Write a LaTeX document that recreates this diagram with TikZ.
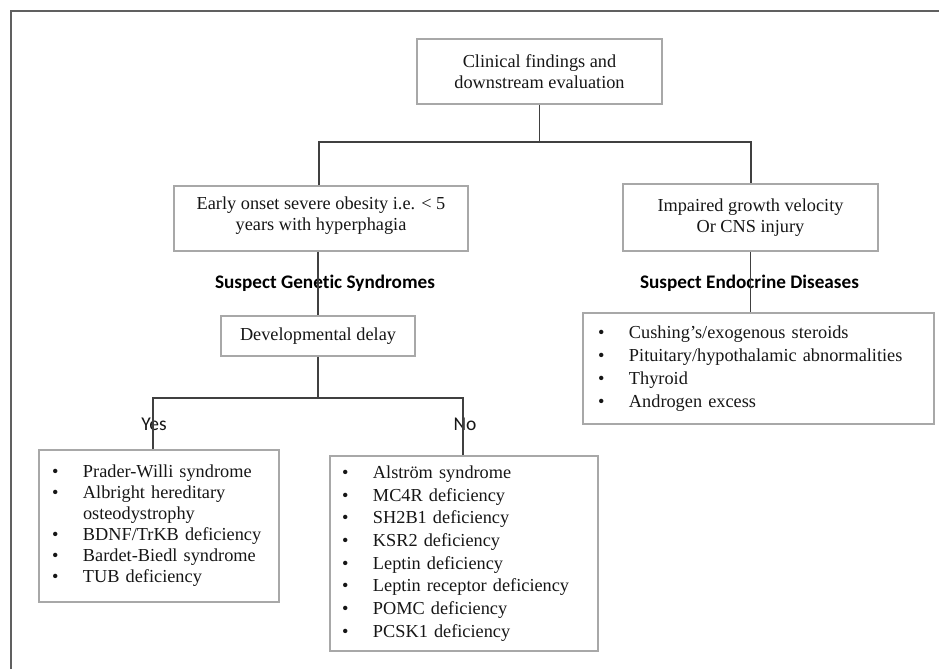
\documentclass[tikz,border=0pt]{standalone}
\usepackage{fontspec}
\setmainfont{Liberation Serif}
\newfontfamily\carl[Ligatures=NoCommon]{Carlito}
\definecolor{boxgray}{HTML}{A8A8A8}
\definecolor{lnk}{HTML}{404040}
\definecolor{framec}{HTML}{606060}
\definecolor{txt}{HTML}{161616}
\newcommand{\lbul}{\makebox[31pt][l]{\textbullet}}
\begin{document}
\begin{tikzpicture}[x=1pt,y=-1pt,
  box/.style={draw=boxgray, line width=1.1pt, inner sep=0pt, text=txt, align=center,
    font=\fontsize{18.3}{21}\selectfont},
  listbox/.style={box, align=left},
  conn/.style={draw=lnk, line width=1.1pt},
  framel/.style={draw=framec, line width=1.6pt},
  head/.style={inner sep=0pt, text=black, font=\carl\bfseries\fontsize{19.2}{22}\selectfont},
  yn/.style={inner sep=0pt, text=txt, font=\carl\fontsize{19.5}{22}\selectfont}]
\useasboundingbox (0,0) rectangle (939,669);
% frame
\coordinate (fbl) at (11,669);
\coordinate (ftl) at (11,11);
\coordinate (ftr) at (939,11);
\draw[framel] (fbl) -- (ftl) -- (ftr);

% nodes
\node[box, minimum width=245pt, minimum height=65pt] (top) at (539.5,71.5)
  {Clinical findings and\\downstream evaluation};
\node[box, minimum width=294pt, minimum height=65pt] (ebox) at (321,218.5)
  {Early onset severe obesity i.e. < 5\\years with hyperphagia\\[-11pt]\mbox{}};
\node[box, minimum width=255pt, minimum height=67pt] (ibox) at (750.5,217.5)
  {Impaired growth velocity\\Or CNS injury};
\node[head] (hg) at (325,283) {Suspect Genetic Syndromes};
\node[head] (he) at (749.5,283) {Suspect Endocrine Diseases};
\node[box, minimum width=194pt, minimum height=40pt] (dev) at (318,336)
  {Developmental delay};
\node[listbox, text width=321pt, inner xsep=15pt, minimum height=111pt,
  font=\fontsize{18.3}{23}\selectfont] (endo) at (758.5,368.5)
  {\lbul Cushing’s/exogenous steroids\\
   \lbul Pituitary/hypothalamic abnormalities\\
   \lbul Thyroid\\
   \lbul Androgen excess};
\node[yn] (yes) at (154,424) {Yes};
\node[yn] (no) at (465,424) {No};
\node[listbox, text width=214pt, inner xsep=13pt, minimum height=152pt,
  font=\fontsize{18.3}{21}\selectfont] (yesbox) at (159,526)
  {\lbul Prader-Willi syndrome\\
   \lbul Albright hereditary\\
   \hspace*{31pt}osteodystrophy\\
   \lbul BDNF/TrKB deficiency\\
   \lbul Bardet-Biedl syndrome\\
   \lbul TUB deficiency};
\node[listbox, text width=244pt, inner xsep=12pt, minimum height=195pt,
  font=\fontsize{18.3}{22.7}\selectfont] (nobox) at (464,553.5)
  {\lbul Alström syndrome\\
   \lbul MC4R deficiency\\
   \lbul SH2B1 deficiency\\
   \lbul KSR2 deficiency\\
   \lbul Leptin deficiency\\
   \lbul Leptin receptor deficiency\\
   \lbul POMC deficiency\\
   \lbul PCSK1 deficiency};

% connectors
\coordinate (hl) at (319,142);
\coordinate (hr) at (751,142);
\draw[conn] (top.south) -- (top.south |- hl);
\draw[conn] (ebox.north -| hl) -- (hl) -- (hr) -- (ibox.north -| hr);
\draw[conn] (dev.north |- ebox.south) -- (dev.north);
\draw[conn] (ibox.south) -- (ibox.south |- endo.north);
\coordinate (yl) at (153,398);
\coordinate (nr) at (463,398);
\draw[conn] (dev.south) -- (dev.south |- yl);
\draw[conn] (yesbox.north -| yl) -- (yl) -- (nr) -- (nobox.north -| nr);
\end{tikzpicture}
\end{document}
